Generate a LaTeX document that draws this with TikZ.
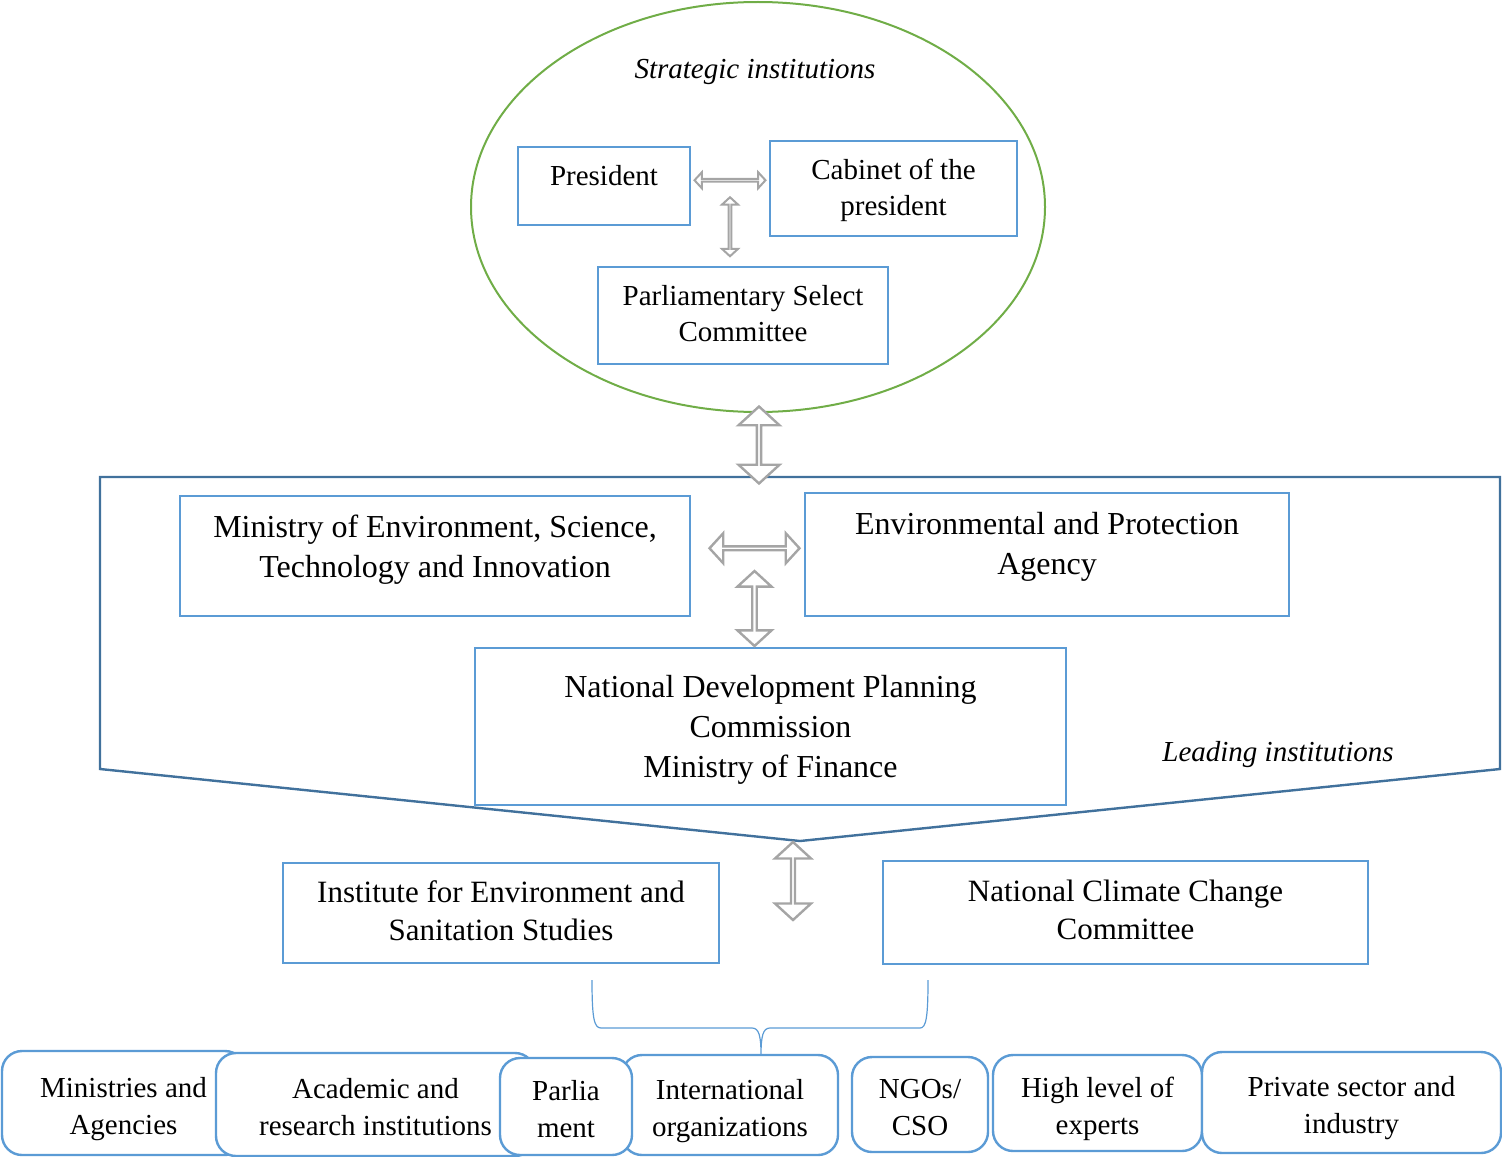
\documentclass[tikz,border=0pt]{standalone}
\usepackage{fontspec}
\setmainfont{Liberation Serif}
\usepackage{tikz}
\usetikzlibrary{shapes.geometric, shapes.arrows, calc}
\definecolor{boxblue}{RGB}{91,155,213}
\definecolor{ringgreen}{RGB}{112,173,71}
\definecolor{leadblue}{RGB}{65,113,156}
\definecolor{arrowgray}{RGB}{165,165,165}

\begin{document}
\begin{tikzpicture}[
    x=0.5pt, y=-0.5pt,
    box/.style={rectangle, draw=boxblue, line width=1pt, fill=white, align=center, inner sep=2pt},
    roundbox/.style={box, rounded corners=10pt, line width=1.2pt, font=\fontsize{14.5}{18.5}\selectfont,
                     text height=34.4pt, text depth=3.2pt},
    topfont/.style={font=\fontsize{14.5}{18}\selectfont},
    midfont/.style={font=\fontsize{16}{20}\selectfont},
    twoway/.style={double arrow, draw=arrowgray, fill=white, line width=1.2pt, inner sep=0pt, double arrow tip angle=95},
    thinway/.style={twoway, line width=1pt},
    brace/.style={draw=boxblue, line width=0.6pt}
]
    \useasboundingbox (0,0) rectangle (1502,1156);

    % strategic institutions
    \node[ellipse, draw=ringgreen, line width=1pt, minimum width=287pt, minimum height=205pt] (strat) at (758,207) {};
    \node[font=\fontsize{14.5}{18}\selectfont\itshape] (stratlabel) at (755,72) {Strategic institutions};
    \node[box, topfont, minimum width=86pt, minimum height=39pt, text depth=11pt] (pres) at (604,186) {President};
    \node[box, topfont, minimum width=123.5pt, minimum height=47.5pt, text depth=1.2pt] (cab) at (893.5,188.5) {Cabinet of the\\president};
    \node[box, topfont, minimum width=145pt, minimum height=48.5pt, text depth=2.5pt] (parl) at (743,315.5) {Parliamentary Select\\Committee};

    \node[thinway, minimum height=35.5pt, minimum width=8pt, double arrow head extend=2.5pt] (a1) at ($(pres.east)!.5!(cab.west)+(0,-7)$) {};
    \node[thinway, rotate=90, minimum height=29.5pt, minimum width=8pt, double arrow head extend=2.5pt] (a2) at ($(a1)+(0,46.5)$) {};

    % leading institutions
    \draw[leadblue, line width=1.2pt] (100,477) -- (1500,477) -- (1500,769) -- (800,841) -- (100,769) -- cycle;
    \coordinate (leadtop) at (760,477);
    \coordinate (leadtip) at (800,841);
    \node[font=\fontsize{14.5}{18}\selectfont\itshape] (leadlabel) at (1278,755) {Leading institutions};

    \node[box, midfont, minimum width=255pt, minimum height=60pt, text depth=9.5pt] (mest) at (435,556) {Ministry of Environment, Science,\\Technology and Innovation};
    \node[box, midfont, minimum width=242pt, minimum height=61.5pt, text depth=11pt] (epa) at (1047,554.5) {Environmental and Protection\\Agency};
    \node[box, midfont, minimum width=295.5pt, minimum height=78.5pt, text depth=0.5pt] (ndpc) at (770.5,726.5) {National Development Planning\\Commission\\Ministry of Finance};

    \node[twoway, rotate=90, minimum height=38.5pt, minimum width=20.5pt, double arrow head extend=5.25pt] (a3) at ($(strat.south)!.5!(leadtop)$) {};
    \node[twoway, minimum height=45pt, minimum width=15pt, double arrow head extend=4pt] (a4) at ($(mest.east)!.5!(epa.west)+(7,-7)$) {};
    \node[twoway, rotate=90, minimum height=37.5pt, minimum width=17pt, double arrow head extend=4pt] (a5) at ($(ndpc.north)+(-16,-38.5)$) {};

    % support institutions
    \node[twoway, rotate=90, minimum height=39pt, minimum width=18pt, double arrow head extend=4.75pt] (a6) at ($(leadtip)+(-7,40)$) {};
    \node[box, font=\fontsize{15.5}{19}\selectfont, minimum width=218pt, minimum height=50pt, text depth=2pt] (iess) at (501,913) {Institute for Environment and\\Sanitation Studies};
    \node[box, font=\fontsize{15.5}{19}\selectfont, minimum width=242.5pt, minimum height=51.5pt, text depth=3pt] (nccc) at (1125.5,912.5) {National Climate Change\\Committee};

    \path[brace] (592,980) .. controls (592,1018) and (594,1028) .. (601,1028) -- (752,1028)
        .. controls (759,1028) and (761,1036) .. (761,1055)
        .. controls (761,1036) and (763,1028) .. (770,1028) -- (920,1028)
        .. controls (926,1028) and (928,1018) .. (928,980);

    % stakeholders
    \node[roundbox, minimum width=121.5pt, minimum height=52pt] (minag) at (123.5,1103) {Ministries and\\Agencies};
    \node[roundbox, minimum width=159.5pt, minimum height=51.5pt] (acad) at (375.5,1104.5) {Academic and\\research institutions};
    \node[roundbox, minimum width=108pt, minimum height=50pt] (intl) at (730,1105) {International\\organizations};
    \node[roundbox, minimum width=66pt, minimum height=48.5pt] (parlia) at (566,1106.5) {Parlia\\ment};
    \node[roundbox, minimum width=68pt, minimum height=47.5pt] (ngo) at (920,1104.5) {NGOs/\\CSO};
    \node[roundbox, minimum width=104.5pt, minimum height=48pt] (expert) at (1097.5,1103) {High level of\\experts};
    \node[roundbox, minimum width=149.5pt, minimum height=50.5pt] (priv) at (1351.5,1102.5) {Private sector and\\industry};
\end{tikzpicture}
\end{document}
